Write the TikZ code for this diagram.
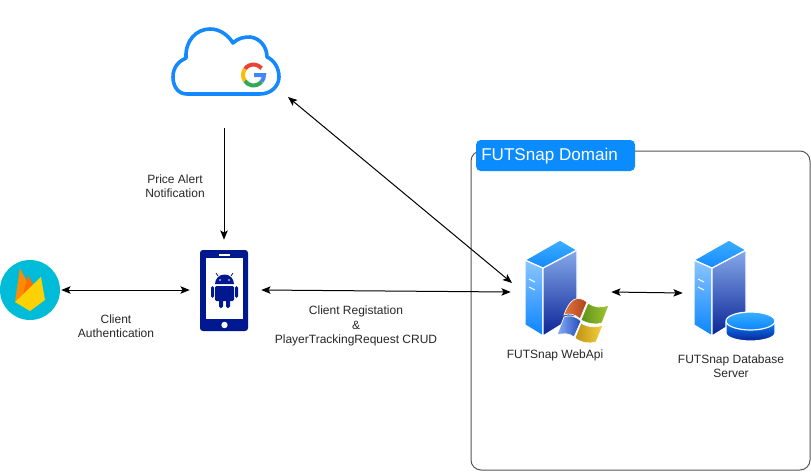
\documentclass[tikz,border=0pt]{standalone}
\usepackage{fontspec}
\setmainfont{Liberation Sans}
\definecolor{cloudblue}{RGB}{20, 137, 255}
\definecolor{domainblue}{RGB}{10, 140, 255}
\definecolor{domainline}{RGB}{85, 85, 85}
\definecolor{phoneblue}{RGB}{0, 24, 143}
\definecolor{firecyan}{RGB}{0, 188, 217}
\definecolor{gred}{RGB}{234, 67, 53}
\definecolor{gyellow}{RGB}{251, 188, 5}
\definecolor{ggreen}{RGB}{52, 168, 83}
\definecolor{gblue}{RGB}{66, 133, 244}
\definecolor{serverlight}{RGB}{140, 198, 255}
\definecolor{serverfront}{RGB}{10, 132, 255}
\definecolor{serverside}{RGB}{135, 170, 235}
\definecolor{serverdark}{RGB}{10, 35, 150}
\definecolor{servertop}{RGB}{60, 175, 255}
\definecolor{winorange}{RGB}{222, 120, 60}
\definecolor{winred}{RGB}{175, 65, 30}
\definecolor{wingreen}{RGB}{95, 145, 25}
\definecolor{winlime}{RGB}{160, 200, 50}
\definecolor{winsky}{RGB}{135, 175, 250}
\definecolor{winnavy}{RGB}{35, 75, 185}
\definecolor{winochre}{RGB}{190, 145, 20}
\definecolor{winyellow}{RGB}{245, 210, 60}
\usetikzlibrary{arrows.meta}
\tikzset{
	iconbox/.style={rectangle, inner sep=0pt, minimum width=#1*0.75pt},
	caption/.style={align=center, inner sep=0pt, text=black!85, font=\fontsize{9}{10.6}\selectfont},
	arrow/.style={{Stealth[length=7pt, inset=1.6pt, width=5.6pt]}-{Stealth[length=7pt, inset=1.6pt, width=5.6pt]}, line width=0.75pt, black},
	onearrow/.style={-{Stealth[length=7pt, inset=1.6pt, width=5.6pt]}, line width=0.75pt, black},
	windowpane/.style={draw=white, line width=0.5pt},
	serverpic/.pic={
		\path[top color=serverlight, bottom color=serverfront, draw=white, line width=0.9pt] (0,20) -- (18,28) -- (18,96) -- (0,85) -- cycle;
		\path[top color=serverside, bottom color=serverdark, draw=white, line width=0.9pt] (18,28) -- (52,10) -- (52,75) -- (18,96) -- cycle;
		\path[top color=servertop, bottom color=cloudblue, draw=white, line width=0.9pt] (0,20) -- (35,0) -- (52,10) -- (18,28) -- cycle;
		\draw[white, line width=0.8pt] (4,39) -- (10,42) (4,47) -- (10,50);
	},
}

\begin{document}
\begin{tikzpicture}[x=0.75pt, y=-0.75pt]
	\useasboundingbox (0,0) rectangle (811,472);
	\draw[domainline, line width=0.75pt, rounded corners=7.5pt] (471,151) rectangle (810,470);
	\node[rectangle, fill=domainblue, rounded corners=3.5pt, minimum width=119.25pt, minimum height=23.25pt, inner sep=0pt] (domain) at (555.5,155.5) {};
	\node[anchor=west, inner sep=0pt, text=white, font=\fontsize{12.8}{14}\selectfont] (domaintext) at (481,156) {FUTSnap Domain};

	\node[iconbox=106, minimum height=75pt] (cloud) at (224,78) {};
	\draw[cloudblue, line width=2.7pt, line join=round] (187,94) .. controls (177,94) and (173,85) .. (173,77)
		.. controls (173,67) and (179,61) .. (186,58)
		.. controls (185,41) and (196,29) .. (210,29)
		.. controls (220,29) and (228,35) .. (233,43)
		.. controls (238,38) and (244,37) .. (250,37)
		.. controls (260,38) and (267,47) .. (267,57)
		.. controls (274,60) and (279,68) .. (279,77)
		.. controls (279,86) and (271,94) .. (260,94) -- cycle;
	\draw[gred, line width=3pt] (244.9,69) arc[start angle=215, end angle=320, radius=10.5];
	\draw[gyellow, line width=3pt] (244.9,81) arc[start angle=145, end angle=215, radius=10.5];
	\draw[ggreen, line width=3pt] (261.5,81.7) arc[start angle=40, end angle=145, radius=10.5];
	\draw[gblue, line width=3pt] (254,75) -- (264,75) arc[start angle=0, end angle=40, radius=10.5];

	\node[iconbox=61, minimum height=45pt] (firebase) at (30.5,290) {};
	\fill[firecyan] (30,290) circle[radius=30];
	\fill[orange!90!yellow] (15,302) -- (20,268) -- (29,286) -- (26,304) -- cycle;
	\fill[orange!85!red] (21,302) -- (28,275) -- (35,288) -- (31,304) -- cycle;
	\fill[yellow!70!orange] (15,302) -- (41,277) -- (45,300) -- (30,311) -- cycle;

	\node[iconbox=71, minimum height=75pt] (phone) at (225.5,290) {};
	\fill[phoneblue, rounded corners=2.2pt] (200,250) rectangle (248,331);
	\fill[white] (206,258) rectangle (243,319);
	\fill[white] (219,254) rectangle (230,256);
	\fill[white] (224.5,325) circle[radius=3.2];
	\fill[phoneblue] (215,284) arc[start angle=180, end angle=360, radius=9.5] -- cycle;
	\draw[phoneblue, line width=0.6pt] (218,276) -- (216,273) (231,276) -- (233,273);
	\fill[white] (220,280) circle[radius=0.9] (229,280) circle[radius=0.9];
	\fill[phoneblue, rounded corners=1pt] (215,286) rectangle (234,301);
	\fill[phoneblue, rounded corners=1.2pt] (211,286) rectangle (214,298) (235,286) rectangle (238,298);
	\fill[phoneblue, rounded corners=1.2pt] (219,298) rectangle (223,308) (226,298) rectangle (230,308);

	\node[iconbox=100, minimum height=75pt] (webapi) at (561,292) {};
	\pic at (525,240) {serverpic};
	\begin{scope}[shift={(587,320)}]
		\path[windowpane, left color=winorange, right color=winred] (-23,-5) .. controls (-18,-20) and (-10,-26) .. (0,-18) -- (-7,-1) .. controls (-12,-6) and (-18,-7) .. (-23,-5) -- cycle;
		\path[windowpane, left color=wingreen, right color=winlime] (1,-17) .. controls (8,-12) and (14,-12) .. (22,-15) -- (15,3) .. controls (9,5) and (1,4) .. (-6,0) -- cycle;
		\path[windowpane, left color=winsky, right color=winnavy] (-23,-3) .. controls (-18,-5) and (-13,-5) .. (-6,1) -- (-13,17) .. controls (-18,13) and (-24,13) .. (-30,15) -- cycle;
		\path[windowpane, left color=winochre, right color=winyellow] (-6,3) .. controls (0,7) and (9,8) .. (16,5) -- (9,22) .. controls (2,24) and (-6,23) .. (-12,18) -- cycle;
	\end{scope}

	\node[iconbox=84, minimum height=75pt] (database) at (725,293) {};
	\pic at (694,240) {serverpic};
	\path[top color=serverfront, bottom color=serverdark, draw=white, line width=0.9pt] (726,322) -- (726,333) arc[start angle=180, end angle=0, x radius=24.5, y radius=8] -- (775,322) -- cycle;
	\path[top color=servertop, bottom color=serverfront, draw=white, line width=0.9pt] (750.5,321) ellipse[x radius=24.5, y radius=9];

	\node[caption] (alerttext) at (175,186) {Price Alert\\Notification};
	\node[caption] (authtext) at (116,326) {Client\\Authentication};
	\node[caption] (crudtext) at (356,326) {Client Registation\\\&\\PlayerTrackingRequest CRUD};
	\node[caption] (webapitext) at (555,355) {FUTSnap WebApi};
	\node[caption] (databasetext) at (731,366) {FUTSnap Database\\Server};

	\coordinate (cloudport) at (288,97);
	\coordinate (webapiport) at (512,283);
	\draw[onearrow] (cloud.south) -- (cloud.south |- phone.north);
	\draw[arrow] (cloudport) -- (webapiport);
	\draw[arrow] (firebase.east) -- (phone.west);
	\draw[arrow] (phone.east) -- (webapi.west);
	\draw[arrow] (webapi.east) -- (database.west);
\end{tikzpicture}
\end{document}
